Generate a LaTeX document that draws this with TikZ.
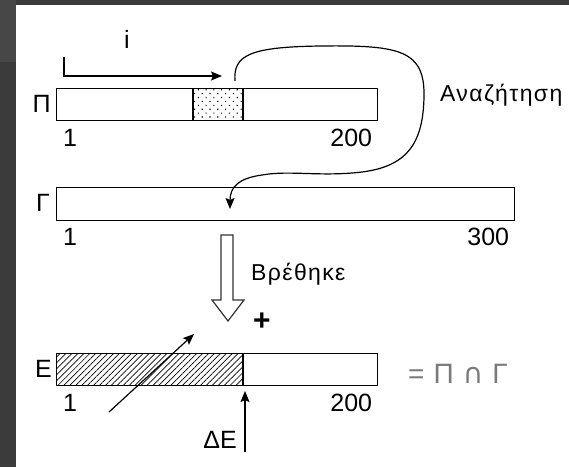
\documentclass[tikz,border=0pt]{standalone}
\usepackage{fontspec}
\setmainfont{Liberation Sans}
\newfontfamily\spaced[LetterSpace=6]{Liberation Sans}
\newfontfamily\symfont{DejaVu Sans}
\usetikzlibrary{patterns.meta,arrows.meta}
\definecolor{framedark}{HTML}{3B3B3B}
\definecolor{framelight}{HTML}{474747}
\definecolor{mathgray}{HTML}{7A7A7A}
\begin{document}
\begin{tikzpicture}[x=1pt,y=-1pt]
    \tikzset{
        bar/.style={draw, line width=1.3pt, inner sep=0pt, minimum height=32pt, anchor=north west},
        txt/.style={inner sep=0pt, font=\fontsize{25}{25}\selectfont},
        word/.style={inner sep=0pt, font=\fontsize{23}{23}\spaced},
        arc/.style={-{Stealth[length=11pt,width=9pt,inset=2pt]}, line width=1.2pt}
    }
    \useasboundingbox (0,0) rectangle (569,467);
    \fill[framedark] (0,0) rectangle (569,467);
    \fill[framelight] (0,0) rectangle (16,62);
    \fill[white] (16,5) rectangle (569,467);

    % patterned parts
    \fill[pattern={Dots[distance=5.5pt,angle=45,radius=0.8pt]}] (193,88) rectangle (243,120);
    \fill[pattern={Lines[angle=45,distance=4.2pt,line width=0.7pt]}] (56,353) rectangle (243,385);

    % arrays
    \draw node[bar, minimum width=321pt] (p) at (56,88) {};
    \draw node[bar, minimum width=458pt, minimum height=33pt] (g) at (56,187) {};
    \draw node[bar, minimum width=321pt] (e) at (56,353) {};
    \draw[line width=1.3pt] (193,88) -- (193,120) (243,88) -- (243,120) (243,353) -- (243,385);

    % names and bounds
    \draw node[txt, anchor=east] (pname) at (51,104) {Π};
    \draw node[txt, anchor=east] (gname) at (50,203) {Γ};
    \draw node[txt, anchor=east] (ename) at (52,369) {E};
    \foreach \n/\y/\lo/\hi in {%
        p/146/1/200,g/245/1/300,e/411/1/200%
    }
    {
        \draw node[txt, anchor=base west] (\n lo) at (63,\y) {\lo};
        \draw node[txt, anchor=base east] (\n hi) at ([xshift=-6pt]\n.east |- 0,\y) {\hi};
    }

    % index i
    \draw node[txt, anchor=base] (iname) at (127,48) {i};
    \coordinate (istart) at (64,57);
    \coordinate (itip) at (222,76);
    \draw[arc] (istart) |- (itip);

    % search
    \coordinate (sstart) at (235,81);
    \coordinate (stip) at (230,209);
    \draw[arc] (sstart) .. controls (233,55) and (250,47) .. (320,46)
        .. controls (400,45) and (425,50) .. (424,97)
        .. controls (423,140) and (410,166) .. (362,172)
        .. controls (320,177) and (290,170) .. (262,175)
        .. controls (240,178) and (230,186) .. (stip);
    \draw node[word, anchor=base west] (search) at (440,101) {Αναζήτηση};

    % found
    \draw[line width=1.2pt, black!80] (221,235) -- (233,235) -- (233,300) -- (244,300)
        -- (228,321) -- (212,300) -- (221,300) -- cycle;
    \draw node[word, anchor=base west] (found) at (251,280) {Βρέθηκε};
    \draw node[inner sep=0pt, font=\fontsize{30}{30}\selectfont\bfseries] (plus) at (262,322) {+};

    % result
    \coordinate (dstart) at (109,412);
    \coordinate (dtip) at (194,334);
    \draw[arc] (dstart) -- (dtip);
    \coordinate (vstart) at (245,452);
    \coordinate (vtip) at (245,391);
    \draw[arc] (vstart) -- (vtip);
    \draw node[txt, anchor=base east] (delta) at (237,448) {ΔE};
    \draw node[inner sep=0pt, font=\fontsize{28}{28}\selectfont, anchor=base west, text=mathgray] (def)
        at (408,383) {=\hspace{9pt}Π\hspace{9pt}{\symfont ∩}\hspace{9pt}Γ};
\end{tikzpicture}
\end{document}
